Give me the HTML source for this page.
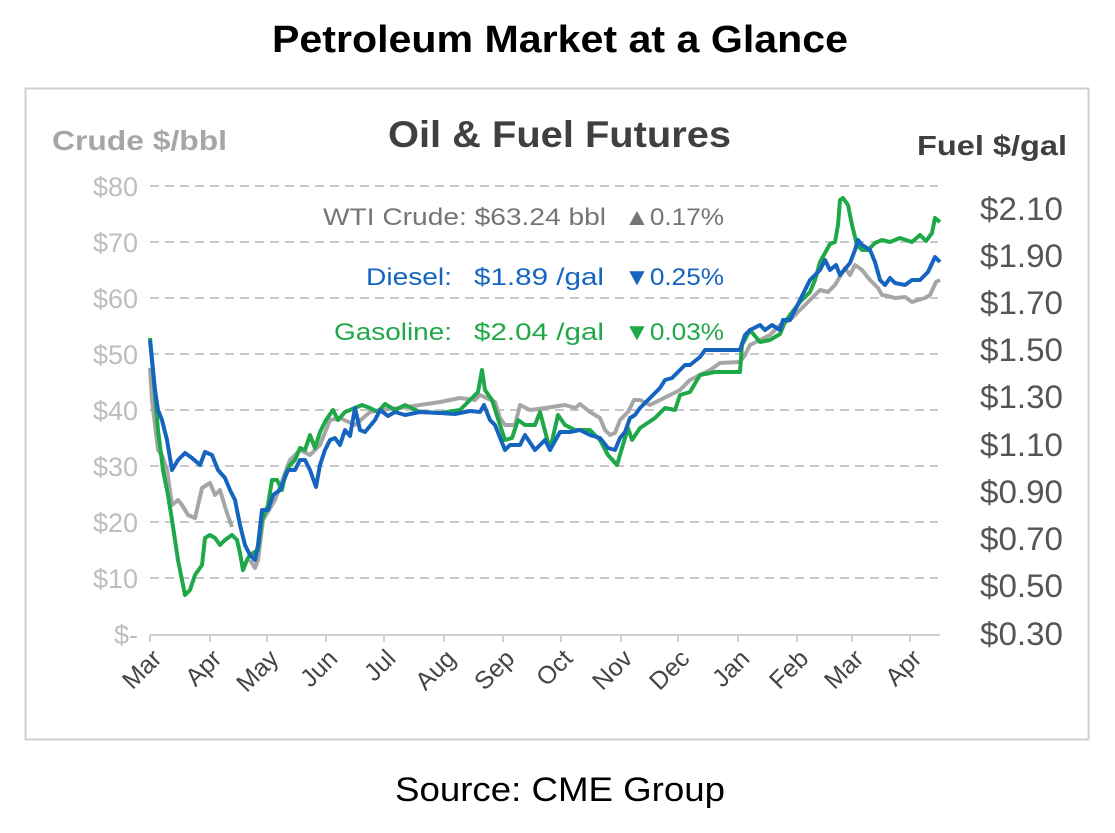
<!DOCTYPE html>
<html><head><meta charset="utf-8"><style>
body{margin:0;background:#fff;width:1115px;height:828px;overflow:hidden;font-family:"Liberation Sans",sans-serif}
</style></head><body>
<svg width="1115" height="828" viewBox="0 0 1115 828" xmlns="http://www.w3.org/2000/svg" font-family="Liberation Sans, sans-serif">
<text x="272" y="52" font-size="38" font-weight="bold" fill="#000" textLength="576" lengthAdjust="spacingAndGlyphs">Petroleum Market at a Glance</text>
<rect x="25.5" y="88.5" width="1063" height="651" fill="none" stroke="#d0d0d0" stroke-width="2"/>
<text x="388" y="147" font-size="37" font-weight="bold" fill="#404040" textLength="343" lengthAdjust="spacingAndGlyphs">Oil &amp; Fuel Futures</text>
<text x="52" y="150" font-size="28" font-weight="bold" fill="#a6a6a6" textLength="175" lengthAdjust="spacingAndGlyphs">Crude $/bbl</text>
<text x="917" y="155" font-size="28" font-weight="bold" fill="#404040" textLength="150" lengthAdjust="spacingAndGlyphs">Fuel $/gal</text>
<g stroke="#c8c8c8" stroke-width="2" stroke-dasharray="9,6">
<line x1="150" y1="186" x2="938" y2="186"/><line x1="150" y1="242" x2="938" y2="242"/><line x1="150" y1="298" x2="938" y2="298"/><line x1="150" y1="354" x2="938" y2="354"/><line x1="150" y1="410" x2="938" y2="410"/><line x1="150" y1="466" x2="938" y2="466"/><line x1="150" y1="522" x2="938" y2="522"/><line x1="150" y1="578" x2="938" y2="578"/>
</g>
<line x1="150" y1="635" x2="940" y2="635" stroke="#cfcfcf" stroke-width="2"/>
<g stroke="#cfcfcf" stroke-width="2">
<line x1="150" y1="635" x2="150" y2="642"/><line x1="210" y1="635" x2="210" y2="642"/><line x1="267" y1="635" x2="267" y2="642"/><line x1="326" y1="635" x2="326" y2="642"/><line x1="384" y1="635" x2="384" y2="642"/><line x1="444" y1="635" x2="444" y2="642"/><line x1="503" y1="635" x2="503" y2="642"/><line x1="561" y1="635" x2="561" y2="642"/><line x1="621" y1="635" x2="621" y2="642"/><line x1="678" y1="635" x2="678" y2="642"/><line x1="738" y1="635" x2="738" y2="642"/><line x1="797" y1="635" x2="797" y2="642"/><line x1="852" y1="635" x2="852" y2="642"/><line x1="910" y1="635" x2="910" y2="642"/>
</g>
<g font-size="27" fill="#bdbdbd" text-anchor="end">
<text x="138" y="196">$80</text><text x="138" y="252">$70</text><text x="138" y="308">$60</text><text x="138" y="364">$50</text><text x="138" y="420">$40</text><text x="138" y="476">$30</text><text x="138" y="532">$20</text><text x="138" y="588">$10</text><text x="138" y="644">$-</text>
</g>
<g font-size="32" fill="#555">
<text x="980" y="220" textLength="83" lengthAdjust="spacingAndGlyphs">$2.10</text><text x="980" y="267" textLength="83" lengthAdjust="spacingAndGlyphs">$1.90</text><text x="980" y="314" textLength="83" lengthAdjust="spacingAndGlyphs">$1.70</text><text x="980" y="361" textLength="83" lengthAdjust="spacingAndGlyphs">$1.50</text><text x="980" y="408" textLength="83" lengthAdjust="spacingAndGlyphs">$1.30</text><text x="980" y="456" textLength="83" lengthAdjust="spacingAndGlyphs">$1.10</text><text x="980" y="503" textLength="83" lengthAdjust="spacingAndGlyphs">$0.90</text><text x="980" y="550" textLength="83" lengthAdjust="spacingAndGlyphs">$0.70</text><text x="980" y="597" textLength="83" lengthAdjust="spacingAndGlyphs">$0.50</text><text x="980" y="645" textLength="83" lengthAdjust="spacingAndGlyphs">$0.30</text>
</g>
<g font-size="25" fill="#444" text-anchor="end">
<text transform="translate(163,660) rotate(-45)">Mar</text>
<text transform="translate(223,660) rotate(-45)">Apr</text>
<text transform="translate(280,660) rotate(-45)">May</text>
<text transform="translate(339,660) rotate(-45)">Jun</text>
<text transform="translate(397,660) rotate(-45)">Jul</text>
<text transform="translate(457,660) rotate(-45)">Aug</text>
<text transform="translate(516,660) rotate(-45)">Sep</text>
<text transform="translate(574,660) rotate(-45)">Oct</text>
<text transform="translate(634,660) rotate(-45)">Nov</text>
<text transform="translate(691,660) rotate(-45)">Dec</text>
<text transform="translate(751,660) rotate(-45)">Jan</text>
<text transform="translate(810,660) rotate(-45)">Feb</text>
<text transform="translate(865,660) rotate(-45)">Mar</text>
<text transform="translate(923,660) rotate(-45)">Apr</text>
</g>
<g fill="none" stroke-width="4" stroke-linejoin="round">
<polyline stroke="#a6a6a6" points="150,368 152,400 158,450 162,455 167,470 172,505 178,500 182,505 188,515 195,518 202,488 210,483 215,495 220,490 226,510 232,527"/>
<polyline stroke="#a6a6a6" points="250,560 255,568 258,560 263,520 275,500 290,460 300,450 310,455 320,445 330,420 340,418 355,425 370,412 380,410 400,408 420,405 440,402 460,398 475,400 480,395 495,402 500,418 505,425 515,425 520,405 530,410 545,408 565,405 575,408 580,404 590,412 600,418 605,430 610,435 615,433 620,420 628,412 634,400 640,400 650,405 660,400 680,390 690,380 700,375 710,370 720,363 740,362 745,355 750,345 760,340 770,335 780,325 790,320 800,310 810,300 820,290 828,292 835,285 845,268 850,275 855,265 862,270 870,280 878,288 882,295 888,296 895,298 905,297 912,302 918,300 925,298 930,295 936,282 940,280"/>
<polyline stroke="#1fa848" points="150,338 152,360 158,430 163,470 168,495 172,520 178,560 185,595 190,590 195,575 202,565 205,538 210,535 215,538 220,545 225,540 232,535 237,540 240,553 243,570 247,560 250,555 258,550 262,520 268,505 272,480 277,480 282,490 285,475 290,465 295,460 300,448 305,450 310,435 315,448 320,432 326,420 333,410 338,420 345,412 350,410 362,405 370,408 378,412 385,404 395,410 405,405 420,412 440,413 460,410 470,400 478,392 482,370 485,390 492,400 500,425 505,440 512,438 518,420 525,425 535,425 540,412 550,450 558,415 565,425 575,430 590,430 600,440 608,455 617,465 622,448 628,428 632,440 640,428 655,418 665,408 675,410 680,395 690,392 700,375 715,372 740,372 742,345 750,330 760,342 770,340 780,334 785,322 790,315 800,302 810,292 815,280 820,262 830,244 835,242 838,225 840,200 843,198 848,205 852,225 857,245 862,250 868,250 875,243 882,240 890,242 900,238 912,242 920,235 926,241 932,233 935,218 940,222"/>
<polyline stroke="#1565c0" points="150,340 155,390 158,410 162,420 167,440 172,470 178,460 185,453 192,458 200,465 205,452 212,455 218,470 225,478 230,490 235,500 240,525 245,545 250,555 255,560 258,545 262,510 268,510 273,495 280,490 288,470 295,470 300,460 305,460 310,470 316,487 320,465 325,450 330,440 335,438 340,445 345,430 350,436 355,408 360,430 365,432 375,420 380,410 388,416 395,412 405,415 420,412 440,413 455,414 470,411 480,412 484,405 490,420 495,425 505,450 510,445 520,445 525,435 535,450 545,440 550,450 560,432 570,432 580,430 590,435 600,438 608,448 615,450 620,438 625,432 630,418 635,415 640,408 650,398 660,388 665,380 672,378 680,370 685,365 690,365 700,357 705,350 715,350 740,350 745,335 750,330 760,325 765,330 772,325 780,330 783,320 790,320 800,300 805,290 810,280 820,270 825,260 830,270 836,265 840,275 850,263 855,250 858,240 862,245 870,250 875,262 880,280 885,285 890,278 895,283 905,285 912,280 920,280 928,272 935,257 940,262"/>
</g>
<g font-size="24">
<text x="323" y="225" fill="#757575" textLength="283" lengthAdjust="spacingAndGlyphs">WTI Crude: $63.24 bbl</text>
<text x="624" y="225" fill="#757575" textLength="100" lengthAdjust="spacingAndGlyphs">▲0.17%</text>
<text x="366" y="285" fill="#1565c0" textLength="86" lengthAdjust="spacingAndGlyphs">Diesel:</text>
<text x="474" y="285" fill="#1565c0" textLength="130" lengthAdjust="spacingAndGlyphs">$1.89 /gal</text>
<text x="624" y="285" fill="#1565c0" textLength="100" lengthAdjust="spacingAndGlyphs">▼0.25%</text>
<text x="334" y="340" fill="#1fa848" textLength="118" lengthAdjust="spacingAndGlyphs">Gasoline:</text>
<text x="474" y="340" fill="#1fa848" textLength="130" lengthAdjust="spacingAndGlyphs">$2.04 /gal</text>
<text x="624" y="340" fill="#1fa848" textLength="100" lengthAdjust="spacingAndGlyphs">▼0.03%</text>
</g>
<text x="395" y="801" font-size="34" fill="#000" textLength="330" lengthAdjust="spacingAndGlyphs">Source: CME Group</text>
</svg>
</body></html>
